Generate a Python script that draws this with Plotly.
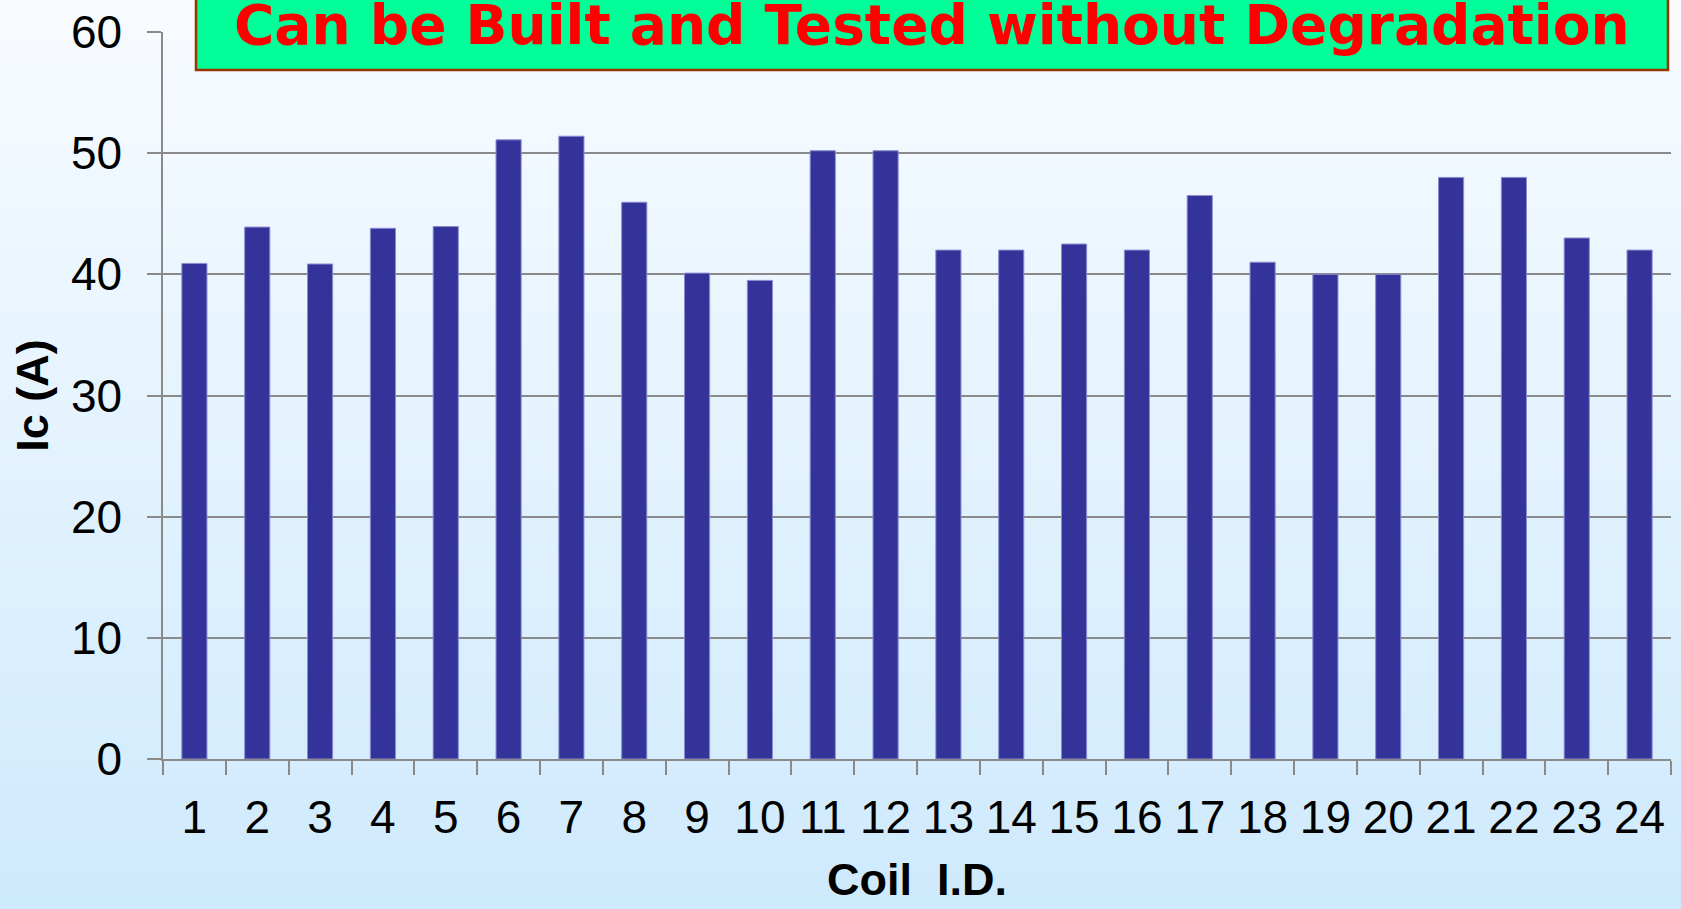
import plotly.graph_objects as go

coil_ids = [str(i) for i in range(1, 25)]
ic_values = [40.9, 43.9, 40.85, 43.8, 43.95, 51.1, 51.4, 45.95, 40.1, 39.5,
             50.2, 50.2, 42.0, 42.0, 42.5, 42.0, 46.5, 41.0, 40.0, 40.0,
             48.0, 48.0, 43.0, 42.0]
y_ticks = [0, 10, 20, 30, 40, 50, 60]
title_text = "Can be Built and Tested without Degradation"
x_title = "Coil&nbsp; I.D."
y_title = "Ic (A)"

W, H = 1681, 909
ML, MR, MT, MB = 163, 10, 32, 150
pw, ph = W - ML - MR, H - MT - MB

def px_to_paper_x(px):
    return (px - ML) / pw

def px_to_paper_y(py):
    return (H - MB - py) / ph

fig = go.Figure()
fig.add_trace(go.Bar(
    x=coil_ids, y=ic_values,
    marker=dict(color="#333399", line=dict(color="#8c8cd0", width=1)),
    showlegend=False,
))

shapes = []
# background vertical gradient
n = 70
top = (248, 251, 255)
bot = (206, 234, 253)
for i in range(n):
    t = i / (n - 1)
    c = tuple(round(top[k] + (bot[k] - top[k]) * t) for k in range(3))
    y0 = H * i / n
    y1 = H * (i + 1) / n + 1
    shapes.append(dict(type="rect", xref="paper", yref="paper", layer="below",
                       x0=px_to_paper_x(-2), x1=px_to_paper_x(W + 2),
                       y0=px_to_paper_y(y1), y1=px_to_paper_y(y0),
                       line=dict(width=0), fillcolor="rgb(%d,%d,%d)" % c))
# title box
shapes.append(dict(type="rect", xref="paper", yref="paper", layer="above",
                   x0=px_to_paper_x(196), x1=px_to_paper_x(1668),
                   y0=px_to_paper_y(70), y1=px_to_paper_y(-10),
                   line=dict(color="#993300", width=2.5), fillcolor="#00FF99"))

fig.update_layout(
    width=W, height=H,
    margin=dict(l=ML, r=MR, t=MT, b=MB, pad=0, autoexpand=False),
    paper_bgcolor="#F0F8FF",
    plot_bgcolor="rgba(0,0,0,0)",
    bargap=0.6,
    shapes=shapes,
    font=dict(family="Liberation Sans, Arial, sans-serif", color="black"),
    annotations=[dict(
        text=title_text, xref="paper", yref="paper",
        x=px_to_paper_x(932), y=px_to_paper_y(25),
        xanchor="center", yanchor="middle", showarrow=False,
        font=dict(family="DejaVu Sans", size=55, color="#FF0000", weight="bold"),
    )],
)
fig.update_xaxes(
    type="category", tickson="boundaries", ticks="outside", ticklen=14,
    tickcolor="#8a8a8a", tickwidth=1.5,
    showline=True, linecolor="#8a8a8a", linewidth=1.5,
    showgrid=False, tickfont=dict(size=46), automargin=False,
    ticklabelstandoff=17,
    title=dict(text=x_title, font=dict(size=45, weight="bold"), standoff=22),
)
fig.update_yaxes(
    range=[0, 60], tickvals=y_ticks, ticks="outside", ticklen=14,
    tickcolor="#8a8a8a", tickwidth=1.5,
    showline=True, linecolor="#8a8a8a", linewidth=1.5,
    showgrid=True, gridcolor="#8a8a8a", gridwidth=1.5, zeroline=False,
    tickfont=dict(size=46), ticklabelstandoff=16, automargin=False,
    title=dict(text=y_title, font=dict(size=45, weight="bold"), standoff=8),
)

fig.write_html("out.html", config=dict(displayModeBar=False),
               post_script="document.body.style.margin='0';document.body.style.overflow='hidden';")
